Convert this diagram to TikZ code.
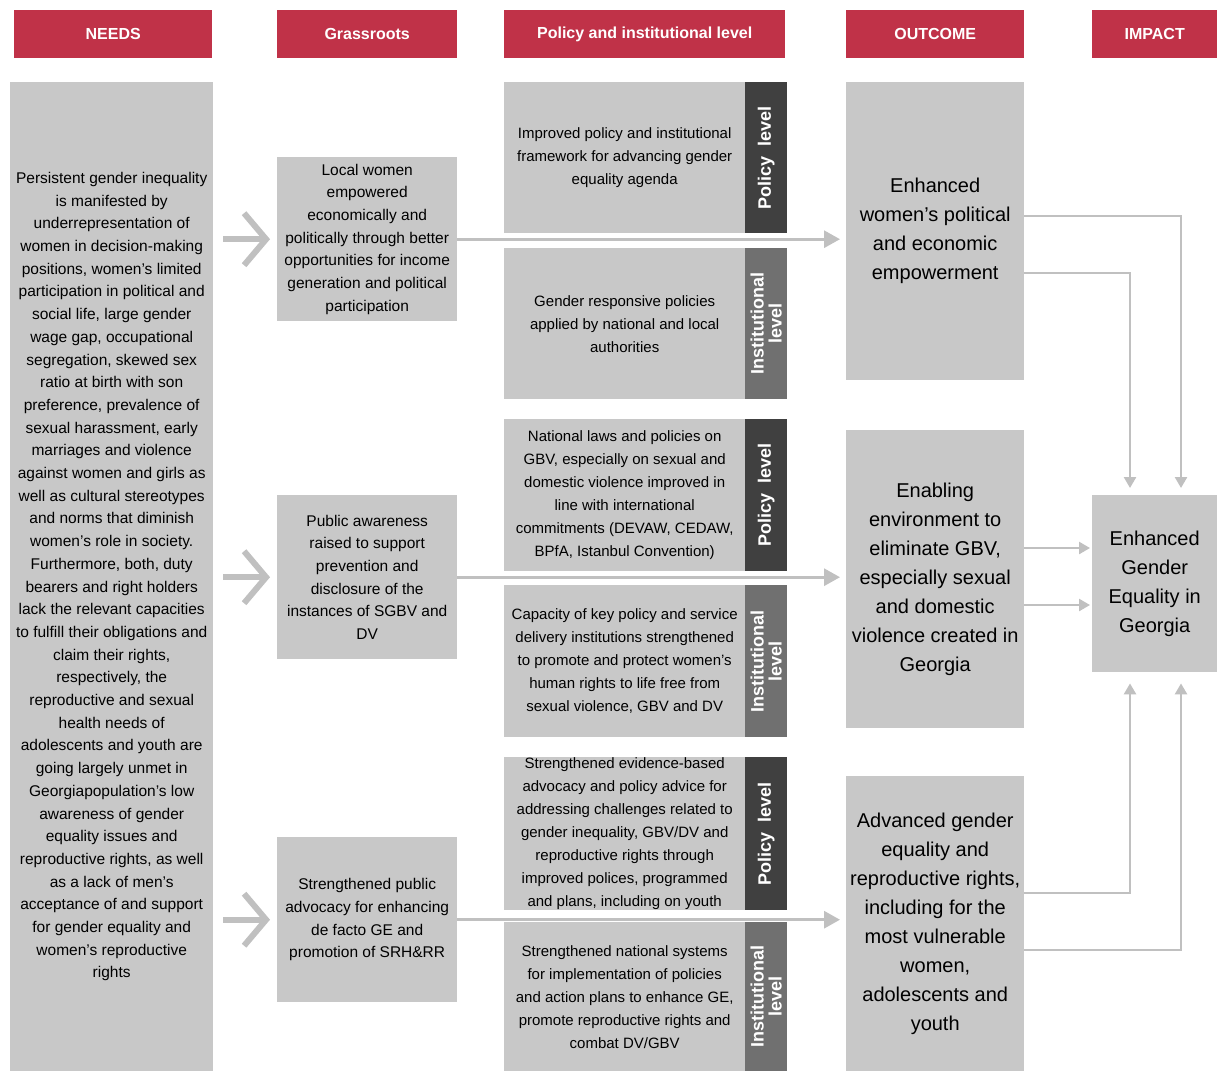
\documentclass[tikz,border=0pt]{standalone}
\usepackage{fontspec}
\setmainfont{Liberation Sans}
\usetikzlibrary{arrows.meta,calc}
\definecolor{hdr}{RGB}{192,50,72}
\definecolor{boxg}{RGB}{200,200,200}
\definecolor{pstrip}{RGB}{64,64,64}
\definecolor{istrip}{RGB}{112,112,112}
\definecolor{arr}{RGB}{192,192,192}
\begin{document}
\begin{tikzpicture}[x=1pt,y=-1pt,
  hdrbox/.style={fill=hdr, text=white, font=\fontsize{16}{18}\selectfont\bfseries, inner sep=0pt, anchor=north west, minimum height=48pt},
  gbox/.style={fill=boxg, inner sep=0pt, anchor=north west, align=center, font=\fontsize{15.5}{22.7}\selectfont},
  mbox/.style={gbox, minimum width=241pt, font=\fontsize{15}{23}\selectfont},
  obox/.style={gbox, minimum width=178pt, font=\fontsize{20}{29}\selectfont},
  pstripbox/.style={fill=pstrip, inner sep=0pt, anchor=north west, minimum width=42pt},
  istripbox/.style={fill=istrip, inner sep=0pt, anchor=north west, minimum width=42pt},
  striptext/.style={rotate=90, text=white, align=center, inner sep=0pt, font=\fontsize{18}{18}\selectfont\bfseries},
  chev/.style={draw=arr, line width=6pt, -{Straight Barb[length=22pt, width=52pt]}},
  longarr/.style={draw=arr, line width=3pt, -{Triangle[length=16pt, width=17pt]}, shorten >=6pt},
  conn/.style={draw=arr, line width=2.5pt, -{Triangle[length=11pt, width=12pt]}},
]
\useasboundingbox (0,0) rectangle (1217,1071);
\fill[white] (0,0) rectangle (1217,1071);

% headers
\node[hdrbox, minimum width=198pt] (hn) at (14,10) {NEEDS};
\node[hdrbox, minimum width=180pt] (hg) at (277,10) {Grassroots};
\node[hdrbox, minimum width=281pt] (hp) at (504,10) {Policy and institutional level};
\node[hdrbox, minimum width=178pt] (ho) at (846,10) {OUTCOME};
\node[hdrbox, minimum width=125pt] (hi) at (1092,10) {IMPACT};

% needs
\node[gbox, minimum width=203pt, minimum height=989pt] (needs) at (10,82) {%
Persistent gender inequality\\ is manifested by\\ underrepresentation of\\ women in decision-making\\
positions, women's limited\\ participation in political and\\ social life, large gender\\ wage gap, occupational\\
segregation, skewed sex\\ ratio at birth with son\\ preference, prevalence of\\ sexual harassment, early\\
marriages and violence\\ against women and girls as\\ well as cultural stereotypes\\ and norms that diminish\\
women's role in society.\\ Furthermore, both, duty\\ bearers and right holders\\ lack the relevant capacities\\
to fulfill their obligations and\\ claim their rights,\\ respectively, the\\ reproductive and sexual\\
health needs of\\ adolescents and youth are\\ going largely unmet in\\ Georgiapopulation's low\\
awareness of gender\\ equality issues and\\ reproductive rights, as well\\ as a lack of men's\\
acceptance of and support\\ for gender equality and\\ women's reproductive\\ rights};

% grassroots
\node[gbox, minimum width=180pt, minimum height=164pt] (g1) at (277,157) {Local women\\ empowered\\ economically and\\ politically through better\\ opportunities for income\\ generation and political\\ participation};
\node[gbox, minimum width=180pt, minimum height=164pt] (g2) at (277,495) {Public awareness\\ raised to support\\ prevention and\\ disclosure of the\\ instances of SGBV and\\ DV};
\node[gbox, minimum width=180pt, minimum height=165pt] (g3) at (277,837) {Strengthened public\\ advocacy for enhancing\\ de facto GE and\\ promotion of SRH\&RR};

% policy / institutional
\node[mbox, minimum height=151pt] (p1) at (504,82) {Improved policy and institutional\\ framework for advancing gender\\ equality agenda};
\node[pstripbox, minimum height=151pt] (p1s) at (745,82) {};
\node[striptext] (p1t) at (p1s.center) {Policy\ \ level};
\node[mbox, minimum height=151pt] (i1) at (504,248) {Gender responsive policies\\ applied by national and local\\ authorities};
\node[istripbox, minimum height=151pt] (i1s) at (745,248) {};
\node[striptext] (i1t) at (i1s.center) {Institutional\\ level};

\node[mbox, minimum height=152pt] (p2) at (504,419) {National laws and policies on\\ GBV, especially on sexual and\\ domestic violence improved in\\ line with international\\ commitments (DEVAW, CEDAW,\\ BPfA, Istanbul Convention)};
\node[pstripbox, minimum height=152pt] (p2s) at (745,419) {};
\node[striptext] (p2t) at (p2s.center) {Policy\ \ level};
\node[mbox, minimum height=152pt] (i2) at (504,585) {Capacity of key policy and service\\ delivery institutions strengthened\\ to promote and protect women's\\ human rights to life free from\\ sexual violence, GBV and DV};
\node[istripbox, minimum height=152pt] (i2s) at (745,585) {};
\node[striptext] (i2t) at (i2s.center) {Institutional\\ level};

\node[mbox, minimum height=153pt] (p3) at (504,757) {Strengthened evidence-based\\ advocacy and policy advice for\\ addressing challenges related to\\ gender inequality, GBV/DV and\\ reproductive rights through\\ improved polices, programmed\\ and plans, including on youth};
\node[pstripbox, minimum height=153pt] (p3s) at (745,757) {};
\node[striptext] (p3t) at (p3s.center) {Policy\ \ level};
\node[mbox, minimum height=149pt] (i3) at (504,922) {Strengthened national systems\\ for implementation of policies\\ and action plans to enhance GE,\\ promote reproductive rights and\\ combat DV/GBV};
\node[istripbox, minimum height=149pt] (i3s) at (745,922) {};
\node[striptext] (i3t) at (i3s.center) {Institutional\\ level};

% outcomes
\node[obox, minimum height=298pt] (o1) at (846,82) {Enhanced\\ women's political\\ and economic\\ empowerment};
\node[obox, minimum height=298pt] (o2) at (846,430) {Enabling\\ environment to\\ eliminate GBV,\\ especially sexual\\ and domestic\\ violence created in\\ Georgia};
\node[obox, minimum height=295pt] (o3) at (846,776) {Advanced gender\\ equality and\\ reproductive rights,\\ including for the\\ most vulnerable\\ women,\\ adolescents and\\ youth};

% impact
\node[obox, minimum width=125pt, minimum height=177pt] (imp) at (1092,495) {Enhanced\\ Gender\\ Equality in\\ Georgia};

% chevron arrows
\draw[chev] ([xshift=10pt]needs.east |- g1.west) -- ([xshift=-7pt]g1.west);
\draw[chev] ([xshift=10pt]needs.east |- g2.west) -- ([xshift=-7pt]g2.west);
\draw[chev] ([xshift=10pt]needs.east |- g3.west) -- ([xshift=-7pt]g3.west);

% long arrows
\draw[longarr] (g1.east) -- (o1.west |- g1.east);
\draw[longarr] (g2.east) -- (o2.west |- g2.east);
\draw[longarr] (g3.east) -- (o3.west |- g3.east);

% right connectors
\coordinate (ya) at (0,216);
\coordinate (yb) at (0,273);
\coordinate (yc) at (0,548);
\coordinate (yd) at (0,605);
\coordinate (ye) at (0,893);
\coordinate (yf) at (0,950);
\coordinate (xa) at (1130,0);
\coordinate (xb) at (1181,0);
\draw[conn, shorten >=7pt] (o1.east |- ya) -| (imp.north -| xb);
\draw[conn, shorten >=7pt] (o1.east |- yb) -| (imp.north -| xa);
\draw[conn, shorten >=2pt] (o2.east |- yc) -- (imp.west |- yc);
\draw[conn, shorten >=2pt] (o2.east |- yd) -- (imp.west |- yd);
\draw[conn, shorten >=11pt] (o3.east |- ye) -| (imp.south -| xa);
\draw[conn, shorten >=11pt] (o3.east |- yf) -| (imp.south -| xb);
\end{tikzpicture}
\end{document}
